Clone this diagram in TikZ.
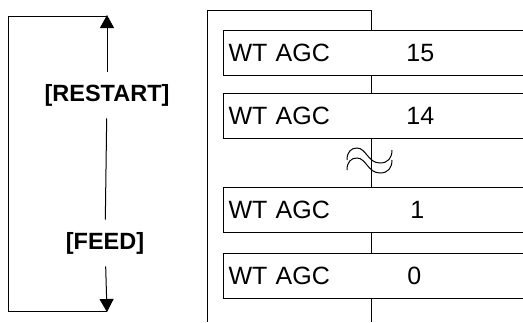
\documentclass[tikz,border=0pt]{standalone}
\usepackage{fontspec}
\setmainfont{Liberation Sans}
\usetikzlibrary{arrows.meta}
\begin{document}
\begin{tikzpicture}[x=1pt,y=-1pt,line width=1pt,
  agcbox/.style={draw,rectangle,minimum width=310pt,minimum height=45pt,anchor=north west,
    inner xsep=2pt,text width=300pt,align=left,font=\fontsize{25}{25}\selectfont},
  keylabel/.style={inner xsep=0pt,inner ysep=12pt,font=\bfseries\fontsize{23.5}{23.5}\selectfont},
  arr/.style={-{Triangle[width=14pt,length=13pt]}}]
\clip (0,0) rectangle (523,322);
% left bracket
\coordinate (tl) at (107,15);
\coordinate (bl) at (107,312);
\node[keylabel] (restart) at (107,95) {[RESTART]};
\node[keylabel] (feed) at (105,243) {[FEED]};
\draw[arr] (restart) -- (tl);
\draw (restart) -- (feed);
\draw[arr] (feed) -- (bl);
\draw (107,16) -- (8,16) -- (8,311) -- (107,311);
% right part
\coordinate (ft) at (371,10);
\coordinate (fb) at (371,322);
\draw (207,322) -- (207,10) -- (ft);
\node[agcbox] (b1) at (223,30) {\makebox[178pt][l]{WT AGC}15};
\node[agcbox] (b2) at (223,93) {\makebox[178pt][l]{WT AGC}14};
\node[agcbox] (b3) at (223,187) {\makebox[182pt][l]{WT AGC}1};
\node[agcbox] (b4) at (223,253) {\makebox[179pt][l]{WT AGC}0};
\draw (ft) -- (ft |- b1.north);
\draw (ft |- b1.south) -- (ft |- b2.north);
\draw (ft |- b2.south) -- (ft |- b3.north);
\draw (ft |- b3.south) -- (ft |- b4.north);
\draw (ft |- b4.south) -- (fb);
% squiggle
\draw (347,160) .. controls (347,152) and (351,148) .. (357,148)
  .. controls (366,148) and (368,163) .. (380,163) .. controls (388,163) and (392,158) .. (392,150);
\draw (347,170) .. controls (347,162) and (351,158) .. (357,158)
  .. controls (366,158) and (368,173) .. (380,173) .. controls (388,173) and (392,168) .. (392,160);
\end{tikzpicture}
\end{document}
